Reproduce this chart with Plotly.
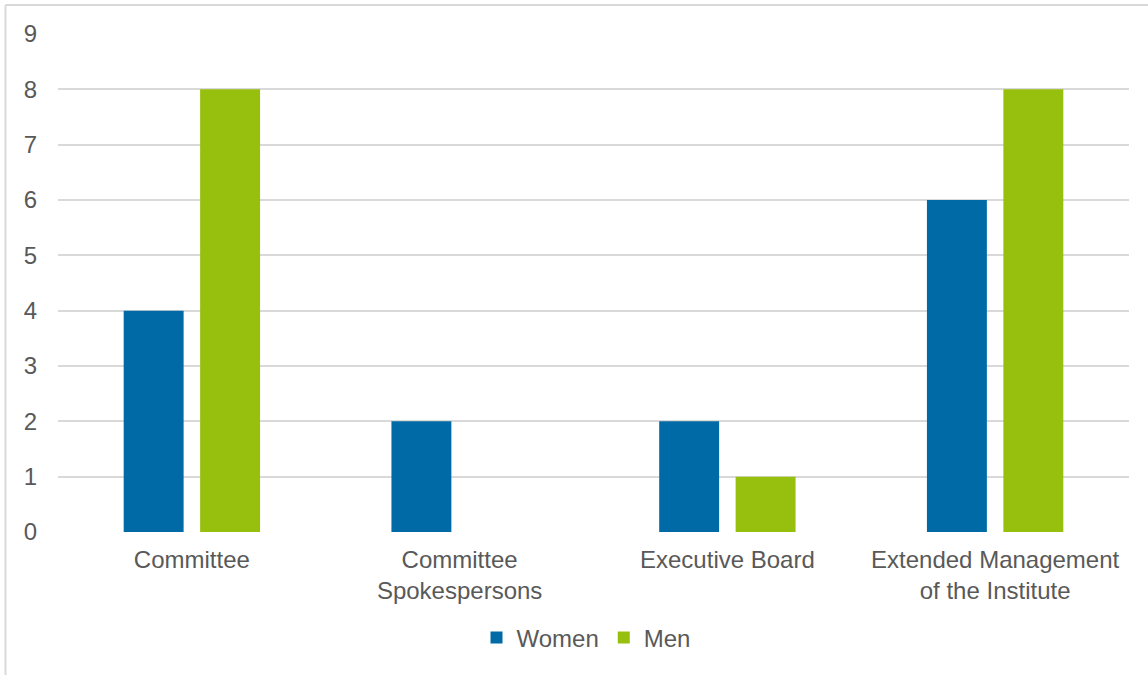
import plotly.graph_objects as go

# Board composition by gender
categories = ["Committee", "Committee<br>Spokespersons", "Executive Board",
              "Extended Management<br>of the Institute"]
women = [4, 2, 2, 6]
men = [8, 0, 1, 8]
y_ticks = [0, 1, 2, 3, 4, 5, 6, 7, 8, 9]

BLUE = "#006AA6"
GREEN = "#97BF0D"
TEXT = "#595959"
GRID = "#D9D9D9"
FONT = "Liberation Sans, Arial, sans-serif"
FS = 24

W, H = 1148, 675
ML, MR, MT, MB = 58, 19, 34, 143

fig = go.Figure()
fig.add_trace(go.Bar(name="Women", x=categories, y=women, marker_color=BLUE,
                     marker_line_width=0))
fig.add_trace(go.Bar(name="Men", x=categories, y=men, marker_color=GREEN,
                     marker_line_width=0))

# outer frame: top and left edges of the chart box
pw = W - ML - MR
ph = H - MT - MB
def px_x(p):
    return (p - ML) / pw
def px_y(p):
    return (H - MB - p) / ph

fig.add_shape(type="line", xref="paper", yref="paper",
              x0=px_x(5.5), x1=px_x(W + 5), y0=px_y(5), y1=px_y(5),
              line=dict(color=GRID, width=2))
fig.add_shape(type="line", xref="paper", yref="paper",
              x0=px_x(5.5), x1=px_x(5.5), y0=px_y(5), y1=px_y(H + 5),
              line=dict(color=GRID, width=2))

fig.update_layout(
    width=W, height=H,
    margin=dict(l=ML, r=MR, t=MT, b=MB, autoexpand=False),
    paper_bgcolor="white", plot_bgcolor="white",
    font=dict(family=FONT, size=FS, color=TEXT),
    barmode="group", bargap=0.429, bargroupgap=0.216,
    showlegend=True,
    legend=dict(orientation="h", x=px_x(586), xanchor="center", y=px_y(638),
                yanchor="middle", font=dict(size=FS, color=TEXT),
                itemwidth=30, traceorder="normal"),
    xaxis=dict(showgrid=False, showline=False, zeroline=False,
               tickfont=dict(size=FS, color=TEXT), ticklabelstandoff=11),
    yaxis=dict(range=[0, 9], tickvals=y_ticks, showgrid=True, gridcolor=GRID,
               gridwidth=1.5, zeroline=False, showline=False,
               tickfont=dict(size=FS, color=TEXT), ticklabelstandoff=20),
)

fig.write_html("out.html")
